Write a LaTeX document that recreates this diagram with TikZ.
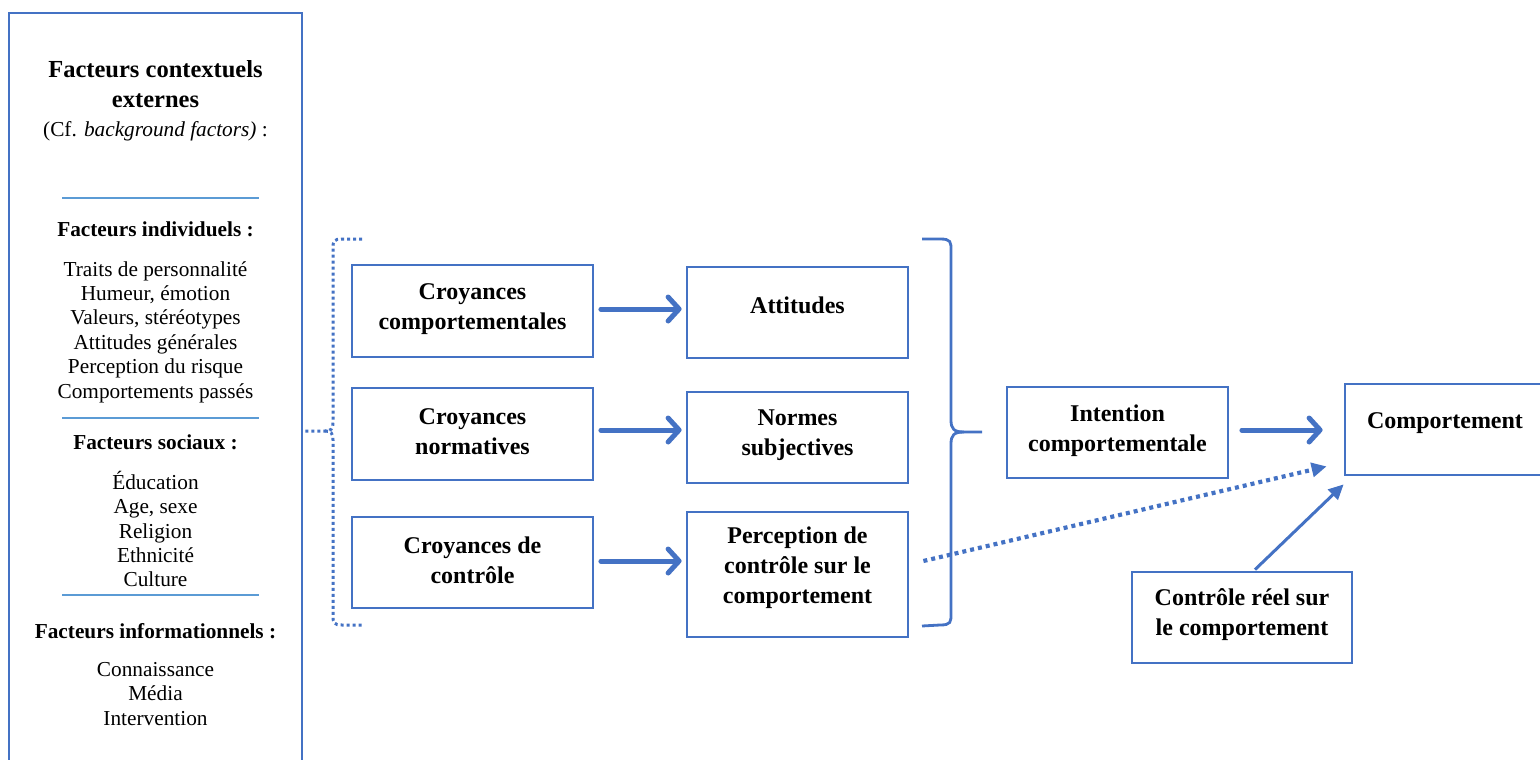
\documentclass[tikz,border=0pt]{standalone}
\usepackage{fontspec}
\setmainfont{Liberation Serif}
\usetikzlibrary{arrows.meta,calc}
\definecolor{wblue}{HTML}{4472C4}
\definecolor{lblue}{HTML}{5B9BD5}
\begin{document}
\begin{tikzpicture}[x=1pt,y=-1pt,
  box/.style={draw=wblue,line width=2.8pt,inner sep=0pt},
  bt/.style={font=\fontsize{24}{30}\selectfont\bfseries,align=center,inner sep=0pt},
  lt/.style={font=\fontsize{21.3}{24.45}\selectfont,align=center,inner sep=0pt},
  lh/.style={font=\fontsize{21.3}{24.45}\selectfont\bfseries,align=center,inner sep=0pt},
  sep/.style={draw=lblue,line width=1.2pt},
  bigarrow/.style={draw=wblue,line width=5pt,line cap=round,-{Straight Barb[length=11pt,width=24pt,round]}},
  dotarrow/.style={draw=wblue,line width=4.2pt,dash pattern=on 4pt off 4pt,-{Triangle[length=15pt,width=14pt]}},
  thinarrow/.style={draw=wblue,line width=3pt,-{Triangle[length=15pt,width=14pt]}},
  brace/.style={draw=wblue,line width=2.8pt},
  dbrace/.style={draw=wblue,line width=3pt,dash pattern=on 3pt off 3pt}
]
\useasboundingbox (0,0) rectangle (1540,760);
\clip (0,0) rectangle (1540,760);

% left context box
\node[box,minimum width=293pt,minimum height=790pt] (ctx) at (155.5,408) {};
\node[font=\fontsize{24.5}{30}\selectfont\bfseries,align=center,inner sep=0pt] (ctxtitle) at (155.5,84) {Facteurs contextuels\\externes};
\node[lt] (cf) at (155.5,131) {(Cf. \textit{background factors)} :};
\draw[sep] (62,198) -- (259,198);
\node[lh] (fi) at (155.5,229) {Facteurs individuels :};
\node[lt] (fil) at (155.5,332) {Traits de personnalité\\Humeur, émotion\\Valeurs, stéréotypes\\Attitudes générales\\Perception du risque\\Comportements passés};
\draw[sep] (62,418) -- (259,418);
\node[lh] (fs) at (155.5,442) {Facteurs sociaux :};
\node[lt] (fsl) at (155.5,529) {Éducation\\Age, sexe\\Religion\\Ethnicité\\Culture};
\draw[sep] (62,595) -- (259,595);
\node[lh] (finf) at (155.5,631) {Facteurs informationnels :};
\node[lt] (finfl) at (155.5,694) {Connaissance\\Média\\Intervention};

% boxes
\node[box,minimum width=241pt,minimum height=92pt] (cc) at (472.5,311) {};
\node[bt] (cct) at (472.5,309) {Croyances\\comportementales};
\node[box,minimum width=241pt,minimum height=92pt] (cn) at (472.5,434) {};
\node[bt] (cnt) at (472.5,432) {Croyances\\normatives};
\node[box,minimum width=241pt,minimum height=91pt] (cd) at (472.5,562.5) {};
\node[bt] (cdt) at (472.5,560) {Croyances de\\contrôle};

\node[box,minimum width=221pt,minimum height=91pt] (att) at (797.5,312.5) {};
\node[bt] (attt) at (797.5,305) {Attitudes};
\node[box,minimum width=221pt,minimum height=91pt] (ns) at (797.5,437.5) {};
\node[bt] (nst) at (797.5,435) {Normes\\subjectives};
\node[box,minimum width=221pt,minimum height=125pt] (pc) at (797.5,574.5) {};
\node[bt] (pct) at (797.5,568) {Perception de\\contrôle sur le\\comportement};

\node[box,minimum width=221pt,minimum height=91pt] (int) at (1117.5,432.5) {};
\node[bt] (intt) at (1117.5,430.5) {Intention\\comportementale};
\node[box,minimum width=200pt,minimum height=91pt] (comp) at (1445,429.5) {};
\node[bt] (compt) at (1445,423) {Comportement};
\node[box,minimum width=220pt,minimum height=91pt] (cr) at (1242,617.5) {};
\node[bt] (crt) at (1242,615) {Contrôle réel sur\\le comportement};

% arrows
\draw[bigarrow] ($(cc.east)+(6.5,-2)$) -- ($(att.west)+(-4,-3.5)$);
\draw[bigarrow] ($(cn.east)+(6.5,-4)$) -- ($(ns.west)+(-4,-7.5)$);
\draw[bigarrow] ($(cd.east)+(6.5,-1.5)$) -- ($(pc.west)+(-4,-13.5)$);
\draw[bigarrow] ($(int.east)+(12.5,-2.5)$) -- ($(comp.west)+(-21,0.5)$);
\draw[dotarrow] ($(pc.east)+(14,-13.5)$) -- ($(comp.south west)+(-17,-10)$);
\draw[thinarrow] ($(cr.north)+(13,-1)$) -- ($(comp.south west)+(0,8)$);

% right brace
\draw[brace] (922,239) -- (940,239) .. controls (951,239) and (951,242) .. (951,250) -- (951,420) .. controls (951,429) and (954,432) .. (964,432) -- (982,432);
\draw[brace] (964,432) .. controls (954,432) and (951,435) .. (951,444) -- (951,614) .. controls (951,622) and (951,625) .. (940,625) -- (922,626);

% left dotted brace
\draw[dbrace] (362,239) -- (342,239) .. controls (334,239) and (333,241) .. (333,248) -- (333,422) .. controls (333,429) and (331,431) .. (325,431) -- (302,431);
\draw[dbrace] (325,431) .. controls (331,431) and (333,433) .. (333,440) -- (333,616) .. controls (333,623) and (334,625) .. (342,625) -- (362,625);
\end{tikzpicture}
\end{document}
